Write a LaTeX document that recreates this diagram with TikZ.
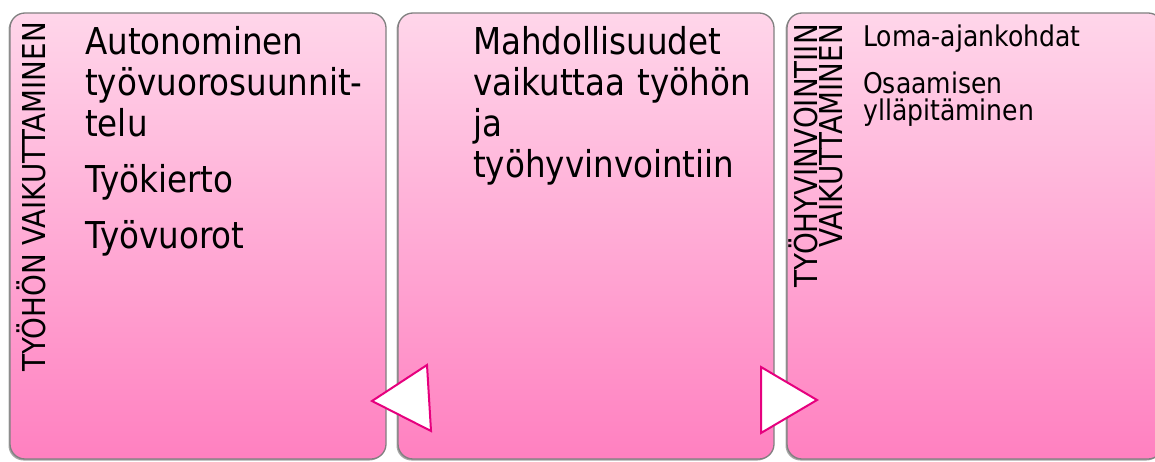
\documentclass[tikz,border=0pt]{standalone}
\usepackage{fontspec}
\newfontfamily\tfont{DejaVu Sans}[FakeStretch=0.88]
\usetikzlibrary{shadows}
\definecolor{pinkTop}{RGB}{255,214,234}
\definecolor{pinkBot}{RGB}{255,128,192}
\definecolor{boxLine}{RGB}{128,128,128}
\definecolor{magentaLine}{RGB}{230,0,126}
\tikzset{
  pinkbox/.style={rounded corners=15pt, draw=boxLine, line width=1.3pt,
    top color=pinkTop, bottom color=pinkBot,
    drop shadow={shadow xshift=-1.5pt, shadow yshift=-1.5pt, opacity=0.35, fill=black}},
  bigtext/.style={font=\tfont\fontsize{37}{41}\selectfont, inner sep=0pt, anchor=base west,
    text width=300pt, align=left, text=black},
  smalltext/.style={font=\tfont\fontsize{28.5}{27}\selectfont, inner sep=0pt, anchor=base west,
    text width=280pt, align=left, text=black},
  sidelabel/.style={font=\tfont\fontsize{31.5}{25}\selectfont, inner sep=0pt, rotate=90, text=black},
  arrowtri/.style={draw=magentaLine, line width=2pt, fill=white, line join=miter}
}
\begin{document}
\begin{tikzpicture}[x=1pt,y=-1pt]
\useasboundingbox (0,0) rectangle (1155,462);
\fill[white] (0,0) rectangle (1155,462);
% boxes
\path[pinkbox] (10,13) rectangle (386,459);
\path[pinkbox] (398,13) rectangle (774,459);
\path[pinkbox] (787,13) rectangle (1163,459);
% side labels
\node[sidelabel, anchor=base west] (lab1) at (45,372) {TYÖHÖN VAIKUTTAMINEN};
\node[sidelabel, anchor=north east, align=right] (lab3) at (789,24) {TYÖHYVINVOINTIIN\\VAIKUTTAMINEN};
% main texts
\node[bigtext] (t1) at (85,55) {Autonominen\\työvuorosuunnit-\\telu\\[15pt]Työkierto\\[15pt]Työvuorot};
\node[bigtext] (t2) at (473,55) {Mahdollisuudet\\vaikuttaa työhön\\ja\\työhyvinvointiin};
\node[smalltext] (t3) at (863,47) {Loma-ajankohdat\\[18pt]Osaamisen\\ylläpitäminen};
% triangles
\draw[arrowtri] (372,401) -- (427,365) -- (431,431) -- cycle;
\draw[arrowtri] (761,367) -- (817,400) -- (761,433) -- cycle;
\end{tikzpicture}
\end{document}
